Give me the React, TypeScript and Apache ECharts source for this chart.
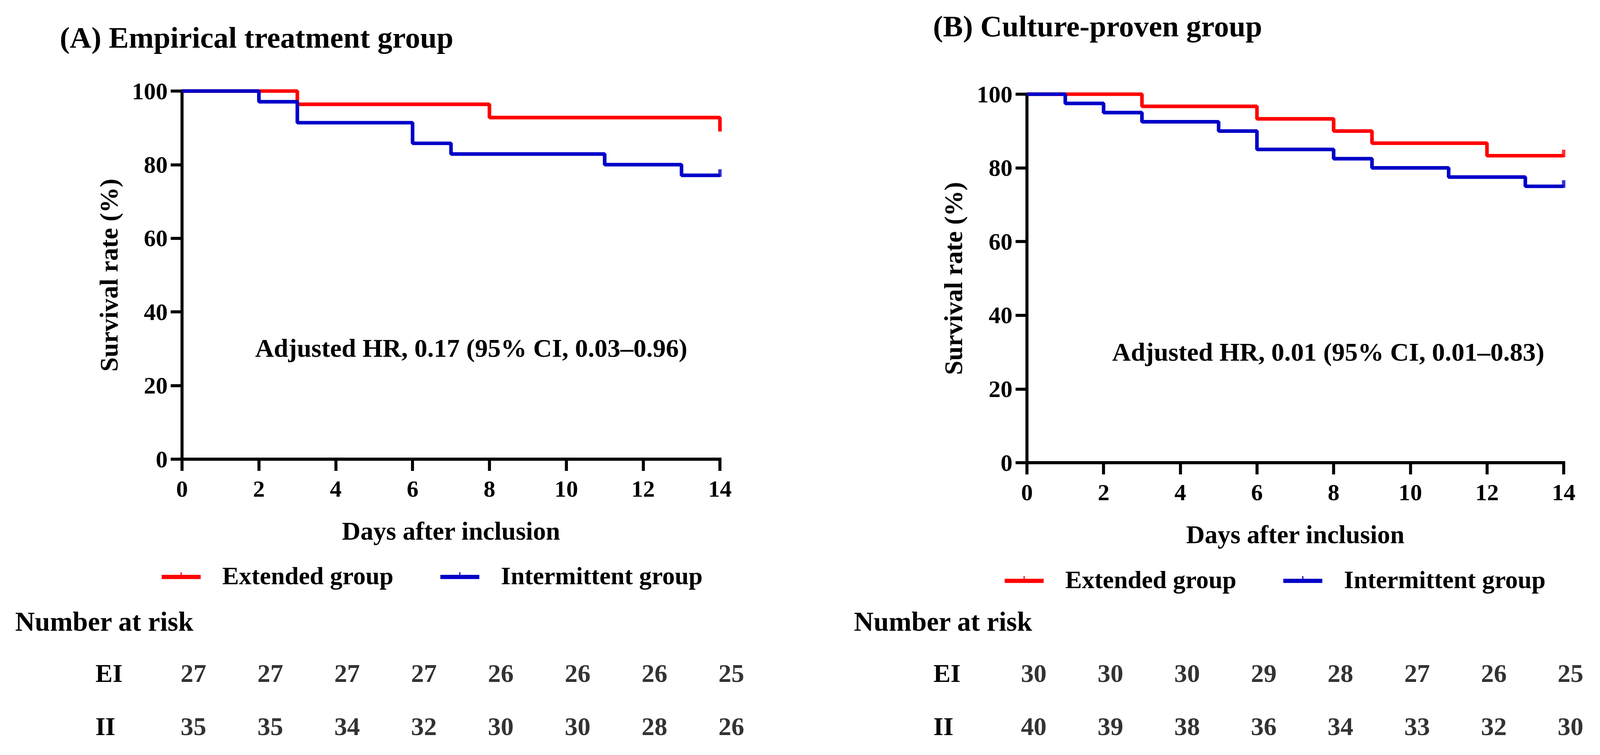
import React, { useEffect, useRef } from "react";
import * as echarts from "echarts";

// ---- Data ----
const daysAExt = [0, 3, 8, 14];
const survAExt = [100, 96.4, 92.8, 89.0];
const daysAInt = [0, 2, 3, 6, 7, 11, 13, 14];
const survAInt = [100, 97.1, 91.4, 85.8, 82.9, 80.0, 77.1, 77.1];

const daysBExt = [0, 3, 6, 8, 9, 12, 14];
const survBExt = [100, 96.7, 93.3, 90.0, 86.7, 83.3, 83.3];
const daysBInt = [0, 1, 2, 3, 5, 6, 8, 9, 11, 13, 14];
const survBInt = [100, 97.5, 95.0, 92.5, 90.0, 85.0, 82.5, 80.0, 77.5, 75.0, 75.0];

// censored marks at end of follow-up: [day, survival]
const censorAInt = [[14, 77.1]];
const censorBExt = [[14, 83.3]];
const censorBInt = [[14, 75.0]];

const riskDays = [0, 2, 4, 6, 8, 10, 12, 14];
const riskRows = ["EI", "II"];
const riskAEI = [27, 27, 27, 27, 26, 26, 26, 25];
const riskAII = [35, 35, 34, 32, 30, 30, 28, 26];
const riskBEI = [30, 30, 30, 29, 28, 27, 26, 25];
const riskBII = [40, 39, 38, 36, 34, 33, 32, 30];

const seriesNames = ["Extended group", "Intermittent group"];
const titleA = "(A) Empirical treatment group";
const titleB = "(B) Culture-proven group";
const noteA = "Adjusted HR, 0.17 (95% CI, 0.03\u20130.96)";
const noteB = "Adjusted HR, 0.01 (95% CI, 0.01\u20130.83)";
const riskTitle = "Number at risk";
const xName = "Days after inclusion";
const yName = "Survival rate (%)";

const RED = "#FF0000";
const BLUE = "#0000C8";
const FONT = "'Liberation Serif', 'Times New Roman', serif";
const REF_W = 4227;
const REF_H = 1932;

const zip = (xs: number[], ys: number[]) => xs.map((x, i) => [x, ys[i]]);

function buildOption(W: number, H: number) {
  const sx = W / REF_W;
  const sy = H / REF_H;
  const s = Math.min(sx, sy);
  const X = (v: number) => v * sx;
  const Y = (v: number) => v * sy;
  const F = (v: number) => Math.round(v * s * 10) / 10;

  const lw = 8 * s;

  const mainX = (gridIndex: number) => ({
    type: "value",
    gridIndex,
    min: 0,
    max: 14,
    interval: 2,
    axisLine: { show: true, onZero: false, lineStyle: { color: "#000", width: lw, cap: "square" } },
    axisTick: { show: true, length: Y(30), lineStyle: { color: "#000", width: lw } },
    axisLabel: { fontSize: F(62), fontWeight: "bold", fontFamily: FONT, color: "#000", margin: Y(45) },
    splitLine: { show: false },
    name: xName,
    nameLocation: "middle",
    nameGap: Y(150),
    nameTextStyle: { fontSize: F(68), fontWeight: "bold", fontFamily: FONT, color: "#000" },
  });

  const mainY = (gridIndex: number) => ({
    type: "value",
    gridIndex,
    min: 0,
    max: 100,
    interval: 20,
    axisLine: { show: true, onZero: false, lineStyle: { color: "#000", width: lw, cap: "square" } },
    axisTick: { show: true, length: X(30), lineStyle: { color: "#000", width: lw } },
    axisLabel: { fontSize: F(63), fontWeight: "bold", fontFamily: FONT, color: "#000", margin: X(38) },
    splitLine: { show: false },
    name: yName,
    nameLocation: "middle",
    nameRotate: 90,
    nameGap: X(160),
    nameTextStyle: { fontSize: F(68), fontWeight: "bold", fontFamily: FONT, color: "#000" },
  });

  const riskX = (gridIndex: number) => ({ type: "value", gridIndex, min: 0, max: 14, show: false });

  const riskY = (gridIndex: number, margin: number) => ({
    type: "category",
    gridIndex,
    data: riskRows,
    inverse: true,
    axisLine: { show: false },
    axisTick: { show: false },
    splitLine: { show: false },
    axisLabel: { align: "left", margin: X(margin), fontSize: F(68), fontWeight: "bold", fontFamily: FONT, color: "#000" },
  });

  const kmLine = (name: string, color: string, axisIndex: number, data: number[][]) => ({
    type: "line",
    name,
    xAxisIndex: axisIndex,
    yAxisIndex: axisIndex,
    step: "end",
    data,
    showSymbol: false,
    symbol: "none",
    lineStyle: { color, width: 9.5 * s },
    itemStyle: { color },
    clip: false,
  });

  const censor = (name: string, color: string, axisIndex: number, data: number[][]) => ({
    type: "scatter",
    name,
    xAxisIndex: axisIndex,
    yAxisIndex: axisIndex,
    data,
    symbol: "rect",
    symbolSize: [9 * s, 20 * s],
    symbolOffset: [0, -6 * s],
    itemStyle: { color },
    clip: false,
  });

  const riskSeries = (axisIndex: number, row: string, counts: number[], dx: number) => ({
    type: "scatter",
    name: "risk-" + axisIndex + "-" + row,
    xAxisIndex: axisIndex,
    yAxisIndex: axisIndex,
    data: riskDays.map((d, i) => [d, row, counts[i]]),
    symbolSize: 1,
    itemStyle: { color: "rgba(0,0,0,0)" },
    label: {
      show: true,
      position: "inside",
      offset: [X(dx), 0],
      formatter: (p: any) => String(p.value[2]),
      fontSize: F(68),
      fontWeight: "bold",
      fontFamily: FONT,
      color: "#000",
    },
    clip: false,
  });

  const legend = (left: number, top: number) => ({
    left: X(left),
    top: Y(top),
    orient: "horizontal",
    data: seriesNames,
    icon: "path://M0,7 h103 v11 h-103 z M50,0 h3 v7 h-3 z",
    itemWidth: X(103),
    itemHeight: Y(18),
    itemGap: X(124),
    selectedMode: false,
    textStyle: {
      fontSize: F(66),
      fontWeight: "bold",
      fontFamily: FONT,
      color: "#000",
      padding: [0, 0, 0, X(52)],
    },
  });

  const text = (x: number, y: number, t: string, size: number, align: string) => ({
    type: "text",
    x: X(x),
    y: Y(y),
    style: {
      text: t,
      fontSize: F(size),
      fontWeight: "bold",
      fontFamily: FONT,
      fill: "#000",
      align,
      verticalAlign: "middle",
    },
  });

  return {
    animation: false,
    backgroundColor: "#fff",
    grid: [
      { left: X(481), top: Y(233), width: X(1421), height: Y(942) },
      { left: X(2713), top: Y(241), width: X(1418), height: Y(943) },
      { left: X(481), top: Y(1654), width: X(1421), height: Y(272) },
      { left: X(2713), top: Y(1654), width: X(1418), height: Y(272) },
    ],
    xAxis: [mainX(0), mainX(1), riskX(2), riskX(3)],
    yAxis: [mainY(0), mainY(1), riskY(2, 229), riskY(3, 247)],
    legend: [legend(422, 1436), legend(2649, 1446)],
    series: [
      kmLine(seriesNames[0], RED, 0, zip(daysAExt, survAExt)),
      kmLine(seriesNames[1], BLUE, 0, zip(daysAInt, survAInt)),
      censor("censor-A-int", BLUE, 0, censorAInt),
      kmLine(seriesNames[0], RED, 1, zip(daysBExt, survBExt)),
      kmLine(seriesNames[1], BLUE, 1, zip(daysBInt, survBInt)),
      censor("censor-B-ext", RED, 1, censorBExt),
      censor("censor-B-int", BLUE, 1, censorBInt),
      riskSeries(2, "EI", riskAEI, 30),
      riskSeries(2, "II", riskAII, 30),
      riskSeries(3, "EI", riskBEI, 18),
      riskSeries(3, "II", riskBII, 18),
    ],
    graphic: [
      text(158, 96, titleA, 79, "left"),
      text(2465, 67, titleB, 79, "left"),
      text(1245, 890, noteA, 68.5, "center"),
      text(3509, 900, noteB, 68.5, "center"),
      text(40, 1590, riskTitle, 72, "left"),
      text(2256, 1590, riskTitle, 72, "left"),
    ],
  };
}

export default function App() {
  const ref = useRef<HTMLDivElement>(null);
  useEffect(() => {
    document.body.style.margin = "0";
    document.body.style.overflow = "hidden";
    document.documentElement.style.overflow = "hidden";
    if (!ref.current) return;
    const chart = echarts.init(ref.current, undefined, { renderer: "svg" });
    chart.setOption(buildOption(chart.getWidth(), chart.getHeight()) as any);
    return () => chart.dispose();
  }, []);
  return (
    <div
      ref={ref}
      style={{ position: "fixed", left: 0, top: 0, right: 0, bottom: 0, width: "100%", height: "100%", background: "#fff" }}
    />
  );
}
